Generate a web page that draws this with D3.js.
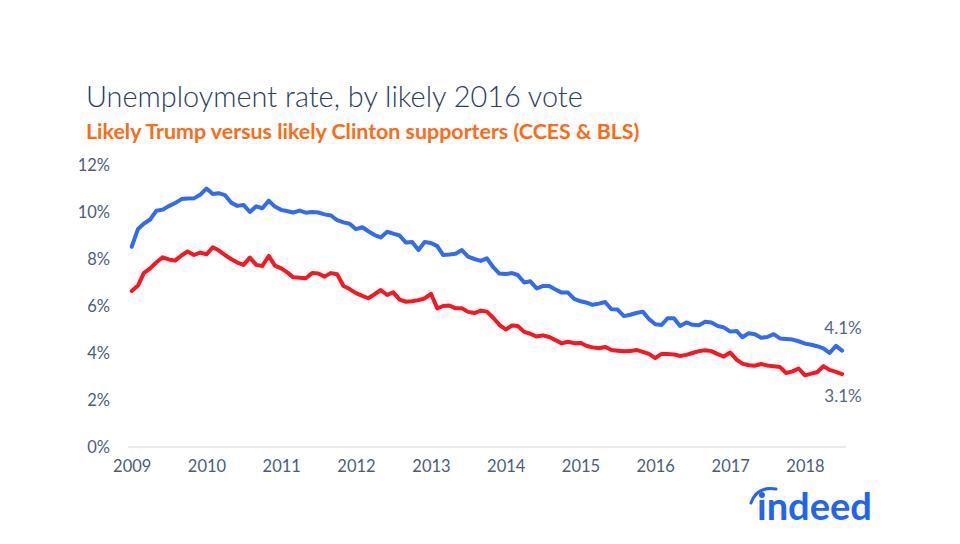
<!DOCTYPE html>
<html>
<head>
<meta charset="utf-8">
<script src="https://cdn.jsdelivr.net/npm/d3@7"></script>
<style>
  html, body { margin: 0; padding: 0; background: #fff; }
  svg { display: block; }
  text { font-family: Lato, "Open Sans", sans-serif; }
</style>
</head>
<body>
<svg id="chart" width="960" height="544"></svg>
<script>
// ---- Data (monthly, Jan 2009 – Jul 2018) ----
const startYear = 2009;
const trumpSeries = [
  8.52, 9.28, 9.5, 9.68, 10.05, 10.1, 10.25, 10.38, 10.55, 10.57, 10.58, 10.73,
  11.0, 10.77, 10.8, 10.72, 10.4, 10.26, 10.3, 10.0, 10.24, 10.16, 10.48, 10.23,
  10.09, 10.03, 9.98, 10.06, 9.97, 10.0, 9.98, 9.9, 9.85, 9.65, 9.56, 9.5,
  9.27, 9.35, 9.18, 9.02, 8.92, 9.16, 9.08, 9.0, 8.7, 8.72, 8.38, 8.72,
  8.68, 8.55, 8.17, 8.19, 8.22, 8.38, 8.1, 8.0, 7.92, 8.03, 7.65, 7.38,
  7.36, 7.4, 7.32, 7.0, 7.05, 6.75, 6.85, 6.85, 6.7, 6.57, 6.57, 6.3,
  6.2, 6.14, 6.05, 6.1, 6.17, 5.86, 5.85, 5.57, 5.63, 5.7, 5.76, 5.45,
  5.22, 5.19, 5.48, 5.48, 5.15, 5.3, 5.2, 5.18, 5.33, 5.3, 5.15, 5.09,
  4.91, 4.94, 4.67, 4.84, 4.8, 4.65, 4.68, 4.8, 4.62, 4.6, 4.57, 4.5,
  4.4, 4.35, 4.29, 4.2, 4.0, 4.3, 4.1
];
const clintonSeries = [
  6.64, 6.87, 7.4, 7.6, 7.85, 8.07, 7.98, 7.93, 8.15, 8.32, 8.17, 8.27,
  8.2, 8.5, 8.37, 8.17, 8.0, 7.85, 7.75, 8.06, 7.75, 7.7, 8.13, 7.72,
  7.6, 7.42, 7.22, 7.2, 7.18, 7.4, 7.38, 7.25, 7.4, 7.35, 6.85, 6.72,
  6.55, 6.43, 6.33, 6.5, 6.68, 6.47, 6.58, 6.27, 6.18, 6.2, 6.25, 6.32,
  6.52, 5.9, 6.0, 6.02, 5.9, 5.9, 5.75, 5.7, 5.8, 5.76, 5.5, 5.2,
  5.0, 5.17, 5.15, 4.9, 4.82, 4.7, 4.75, 4.68, 4.55, 4.41, 4.48, 4.42,
  4.43, 4.3, 4.24, 4.2, 4.26, 4.13, 4.1, 4.07, 4.08, 4.13, 4.05, 3.96,
  3.78, 3.96, 3.96, 3.94, 3.87, 3.92, 4.0, 4.08, 4.12, 4.08, 3.95, 3.85,
  4.02, 3.72, 3.55, 3.48, 3.46, 3.53, 3.47, 3.44, 3.4, 3.15, 3.22, 3.34,
  3.05, 3.12, 3.18, 3.44, 3.28, 3.2, 3.1
];
const yTicks = [0, 2, 4, 6, 8, 10, 12];
const xTickYears = [2009, 2010, 2011, 2012, 2013, 2014, 2015, 2016, 2017, 2018];
const endLabels = ["4.1%", "3.1%"];
const titleText = "Unemployment rate, by likely 2016 vote";
const subtitleText = "Likely Trump versus likely Clinton supporters (CCES & BLS)";

// ---- Layout ----
const svg = d3.select("#chart");
const x = d3.scaleTime()
  .domain([new Date(2009, 0, 1), new Date(2018, 0, 1)])
  .range([131.7, 805]);
const y = d3.scaleLinear().domain([0, 12]).range([447, 165]);

const toPoints = arr => arr.map((v, i) => ({ date: new Date(startYear, i, 1), v }));
const trump = toPoints(trumpSeries);
const clinton = toPoints(clintonSeries);

function fitText(sel, width) {
  const w = sel.node().getComputedTextLength();
  const fs = parseFloat(sel.attr("font-size"));
  sel.attr("font-size", fs * width / w);
}
const t1 = svg.append("text").attr("x", 86).attr("y", 107)
  .attr("font-size", 26).attr("fill", "#2c3e5c").attr("font-weight", 300)
  .text(titleText);
fitText(t1, 497);
const t2 = svg.append("text").attr("x", 86).attr("y", 139)
  .attr("font-size", 17).attr("fill", "#ff6a13").attr("font-weight", 700)
  .text(subtitleText);
fitText(t2, 554);

// Baseline
svg.append("line")
  .attr("x1", 128).attr("x2", 846)
  .attr("y1", y(0)).attr("y2", y(0))
  .attr("stroke", "#e3e3e6").attr("stroke-width", 1.5);

// Y axis labels
const yAxis = d3.axisLeft(y).tickValues(yTicks).tickSize(0).tickPadding(0)
  .tickFormat(d => d + "%");
const gy = svg.append("g").attr("transform", "translate(110,0)").call(yAxis);
gy.select(".domain").remove();
gy.selectAll("text").attr("font-size", 16.5).attr("fill", "#4d5d78")
  .attr("font-family", "Lato, 'Open Sans', sans-serif");

// X axis labels
const xAxis = d3.axisBottom(x)
  .tickValues(xTickYears.map(yr => new Date(yr, 0, 1)))
  .tickSize(0).tickPadding(0)
  .tickFormat(d3.timeFormat("%Y"));
const gx = svg.append("g").attr("transform", "translate(0,460)").call(xAxis);
gx.select(".domain").remove();
gx.selectAll("text").attr("font-size", 16.5).attr("fill", "#4d5d78")
  .attr("font-family", "Lato, 'Open Sans', sans-serif");

// Lines
const line = d3.line().x(d => x(d.date)).y(d => y(d.v)).curve(d3.curveLinear);
svg.append("path").datum(trump).attr("d", line)
  .attr("fill", "none").attr("stroke", "#2f6cf0").attr("stroke-width", 4)
  .attr("stroke-linejoin", "round").attr("stroke-linecap", "round");
svg.append("path").datum(clinton).attr("d", line)
  .attr("fill", "none").attr("stroke", "#fb1520").attr("stroke-width", 4)
  .attr("stroke-linejoin", "round").attr("stroke-linecap", "round");

// End labels
svg.append("text").attr("x", 843).attr("y", 334).attr("text-anchor", "middle")
  .attr("font-size", 17).attr("fill", "#56657c").text(endLabels[0]);
svg.append("text").attr("x", 843).attr("y", 402).attr("text-anchor", "middle")
  .attr("font-size", 17).attr("fill", "#56657c").text(endLabels[1]);

// indeed logo
const logo = svg.append("g");
const lt = logo.append("text").attr("x", 757).attr("y", 520)
  .attr("font-size", 37).attr("font-weight", 700).attr("fill", "#2164f3")
  .attr("font-family", "Lato, 'Open Sans', sans-serif")
  .text("indeed");
fitText(lt, 115);
logo.append("path")
  .attr("d", "M751,503 Q757,486 776,489")
  .attr("fill", "none").attr("stroke", "#2164f3").attr("stroke-width", 3)
  .attr("stroke-linecap", "round");
</script>
</body>
</html>
